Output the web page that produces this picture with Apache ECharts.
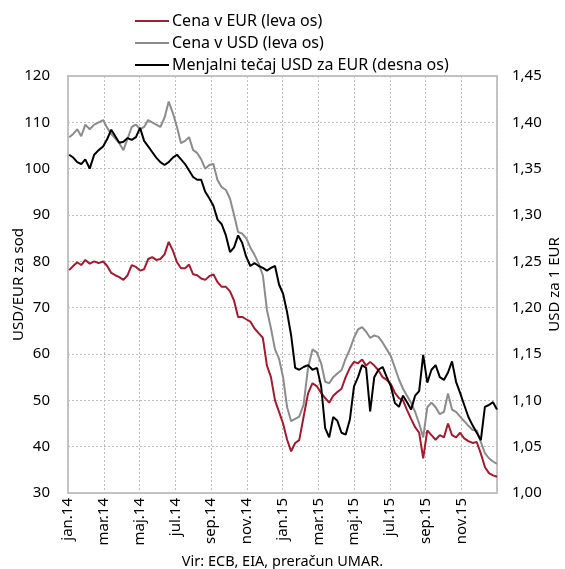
<!DOCTYPE html>
<html>
<head>
<meta charset="utf-8">
<script src="https://cdn.jsdelivr.net/npm/echarts@6/dist/echarts.min.js"></script>
<style>
  html, body { margin: 0; padding: 0; background: #fff; }
  #chart { width: 565px; height: 569px; }
</style>
</head>
<body>
<div id="chart"></div>
<script>
  // tedenski podatki, od 3.1.2014 naprej
  var firstWeek = '2014-01-03';
  var monthLabels = ['jan.14', 'mar.14', 'maj.14', 'jul.14', 'sep.14', 'nov.14',
                     'jan.15', 'mar.15', 'maj.15', 'jul.15', 'sep.15', 'nov.15'];

  // Brent, cena v EUR (leva os)
  var priceEur = [
    78.1, 79, 79.8, 79.2, 80.3, 79.5, 80, 79.6, 80, 79, 77.5, 77, 76.6, 76, 77, 79.2,
    78.8, 78, 78.3, 80.5, 80.9, 80.3, 80.5, 81.5, 84.2, 82.3, 79.8, 78.5, 78.5, 79.3,
    77.2, 77, 76.3, 76, 76.8, 77.2, 75.5, 74.5, 74.5, 73.5, 71.5, 68, 68, 67.5, 67,
    65.5, 64.5, 63.5, 57.5, 55, 50, 47.5,
    45, 41.5, 39, 40.8, 41.4, 46.4, 51.5, 53.7, 53, 51.6, 50.5, 49.5, 51, 51.8, 52.5,
    55, 57, 58.3, 58, 58.8, 57.5, 58.3, 57.5, 56.5, 55, 54.4, 53.5, 51.6, 50.5, 50,
    47.9, 46, 44.2, 43, 37.5, 43.5, 42.5, 41.5, 42.5, 42, 45, 42.5, 42, 43, 41.8, 41.2,
    40.8, 41, 38.5, 35.6, 34.3, 33.8, 33.5
  ];

  // Brent, cena v USD (leva os)
  var priceUsd = [
    106.8, 107.5, 108.5, 107, 109.5, 108.5, 109.5, 110, 110.5, 108.8, 107.5, 106.5,
    105.5, 104, 106.5, 109, 109.5, 108.5, 109, 110.5, 110, 109.5, 109, 111, 114.5, 112,
    109, 105.5, 106, 106.8, 104, 103.4, 102, 100, 100.8, 101, 97.5, 96, 95.4, 93.5, 90,
    86.3, 86, 85, 83, 81.4, 79.5, 77, 69.5, 65.5, 61, 59,
    55, 48.5, 45.5, 46, 46.5, 49, 57, 61, 60.3, 58, 54, 53.7, 55, 55.8, 56.5, 59, 61,
    63.5, 65.3, 65.8, 64.8, 63.5, 64, 63.7, 62.5, 61, 59.5, 57, 54.5, 52.5, 51, 49.5,
    47.5, 45, 42, 48.5, 49.5, 48.5, 47, 47.5, 51.5, 48, 47.5, 46.5, 45.5, 44.5, 43.6,
    43.5, 41, 38.6, 37.5, 36.8, 36.3
  ];

  // USD za 1 EUR (desna os)
  var usdPerEur = [
    1.365, 1.362, 1.357, 1.355, 1.36, 1.35, 1.365, 1.37, 1.374, 1.382, 1.392, 1.385,
    1.378, 1.379, 1.383, 1.381, 1.384, 1.394, 1.38, 1.374, 1.368, 1.362, 1.357, 1.354,
    1.357, 1.362, 1.365, 1.36, 1.355, 1.348, 1.341, 1.338, 1.338, 1.325, 1.318, 1.31,
    1.295, 1.29, 1.278, 1.26, 1.265, 1.278, 1.27, 1.255, 1.245, 1.248, 1.245, 1.243,
    1.24, 1.243, 1.245, 1.225,
    1.215, 1.195, 1.17, 1.135, 1.133, 1.136, 1.138, 1.133, 1.135, 1.115, 1.07, 1.06,
    1.082, 1.078, 1.065, 1.063, 1.079, 1.115, 1.125, 1.138, 1.135, 1.088, 1.125, 1.133,
    1.136, 1.125, 1.115, 1.097, 1.093, 1.105, 1.098, 1.09, 1.105, 1.11, 1.149, 1.119,
    1.133, 1.138, 1.125, 1.122, 1.13, 1.142, 1.12, 1.108, 1.095, 1.082, 1.073, 1.065,
    1.057, 1.093, 1.095, 1.098, 1.09
  ];

  var fontName = 'Noto Sans';

  // datum -> mesec od jan.14 (z delom meseca)
  function monthPos(d) {
    var m = (d.getUTCFullYear() - 2014) * 12 + d.getUTCMonth();
    var dim = new Date(Date.UTC(d.getUTCFullYear(), d.getUTCMonth() + 1, 0)).getUTCDate();
    return m + (d.getUTCDate() - 1) / dim;
  }

  var weeks = [];
  var start = new Date(firstWeek + 'T00:00:00Z');
  for (var i = 0; i < priceUsd.length; i++) {
    weeks.push(monthPos(new Date(start.getTime() + i * 7 * 86400000)));
  }

  function pairs(vals) {
    return vals.map(function (v, i) { return [weeks[i], v]; });
  }

  var chart = echarts.init(document.getElementById('chart'));
  var option = {
    animation: false,
    textStyle: { fontFamily: fontName, color: '#000' },
    legend: {
      orient: 'vertical',
      left: 130,
      top: 8,
      icon: 'rect',
      itemWidth: 34,
      itemHeight: 2,
      itemGap: 6,
      textStyle: { fontSize: 16, lineHeight: 16, color: '#000', fontFamily: fontName, padding: [0, 0, 0, -2] },
      data: ['Cena v EUR (leva os)', 'Cena v USD (leva os)', 'Menjalni tečaj USD za EUR (desna os)']
    },
    grid: {
      left: 68, right: 68, top: 76, bottom: 76,
      outerBoundsMode: 'none',
      show: true, borderColor: '#c4c4c4', borderWidth: 2
    },
    xAxis: {
      type: 'value',
      min: 0, max: 24, interval: 2,
      axisLine: { show: false },
      axisTick: { show: false },
      splitLine: { show: true, lineStyle: { color: '#bdbdbd', type: [2, 2], width: 1 } },
      axisLabel: {
        rotate: 90, fontSize: 15, color: '#000', margin: 5,
        formatter: function (v) { return v < 24 ? monthLabels[v / 2] : ''; }
      }
    },
    yAxis: [{
      type: 'value',
      position: 'left',
      min: 30, max: 120, interval: 10,
      name: 'USD/EUR za sod',
      nameLocation: 'middle', nameRotate: 90, nameGap: 42,
      nameMoveOverlap: false,
      nameTextStyle: { fontSize: 15, color: '#000' },
      axisLine: { show: false },
      axisTick: { show: false },
      splitLine: { show: true, lineStyle: { color: '#bdbdbd', type: [2, 2], width: 1 } },
      axisLabel: { fontSize: 15, color: '#000', margin: 18 }
    }, {
      type: 'value',
      position: 'right',
      min: 1, max: 1.45, interval: 0.05,
      name: 'USD za 1 EUR',
      nameLocation: 'middle', nameRotate: 90, nameGap: 50,
      nameMoveOverlap: false,
      nameTextStyle: { fontSize: 15, color: '#000' },
      axisLine: { show: false },
      axisTick: { show: false },
      splitLine: { show: false },
      axisLabel: {
        fontSize: 15, color: '#000', margin: 15,
        formatter: function (v) { return v.toFixed(2).replace('.', ','); }
      }
    }],
    graphic: [{
      type: 'text',
      left: 'center',
      top: 554,
      style: { text: 'Vir: ECB, EIA, preračun UMAR.', fontSize: 14.5, fontFamily: fontName, fill: '#000' }
    }],
    series: [{
      name: 'Cena v EUR (leva os)',
      type: 'line', yAxisIndex: 0, showSymbol: false, symbol: 'none',
      lineStyle: { color: '#a6192e', width: 2 }, itemStyle: { color: '#a6192e' },
      data: pairs(priceEur)
    }, {
      name: 'Cena v USD (leva os)',
      type: 'line', yAxisIndex: 0, showSymbol: false, symbol: 'none',
      lineStyle: { color: '#8c8c8c', width: 2 }, itemStyle: { color: '#8c8c8c' },
      data: pairs(priceUsd)
    }, {
      name: 'Menjalni tečaj USD za EUR (desna os)',
      type: 'line', yAxisIndex: 1, showSymbol: false, symbol: 'none',
      lineStyle: { color: '#000', width: 2 }, itemStyle: { color: '#000' },
      data: pairs(usdPerEur)
    }]
  };
  chart.setOption(option);
</script>
</body>
</html>
